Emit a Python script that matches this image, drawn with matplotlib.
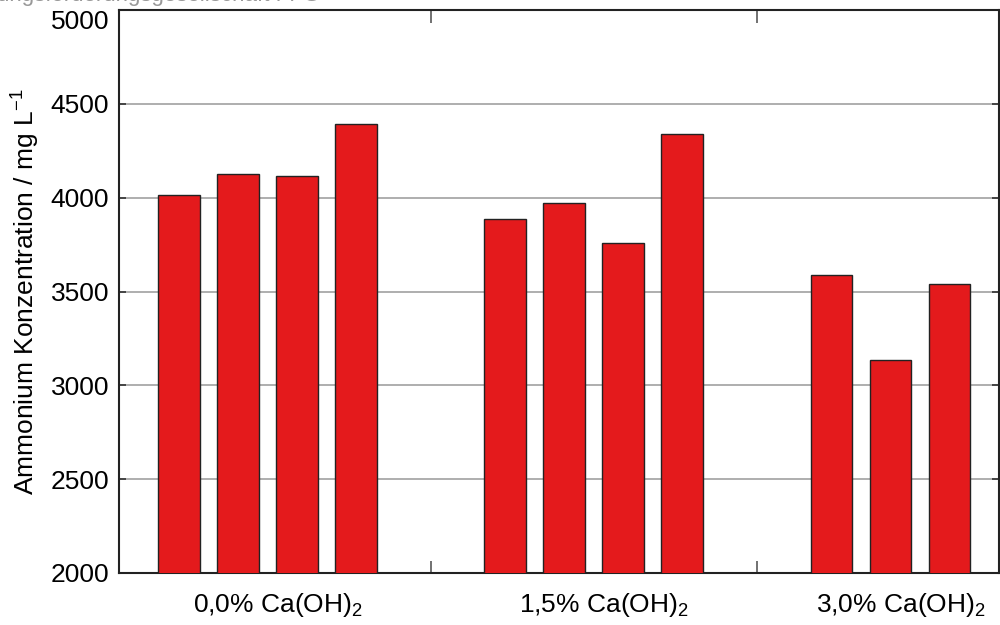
import matplotlib.pyplot as plt
import numpy as np

plt.rcParams['font.family'] = ['Liberation Sans', 'DejaVu Sans']
plt.rcParams['mathtext.fontset'] = 'custom'
plt.rcParams['mathtext.rm'] = 'Liberation Sans'
plt.rcParams['mathtext.it'] = 'Liberation Sans'

# Daten
gruppen = ['0,0% Ca(OH)$_2$', '1,5% Ca(OH)$_2$', '3,0% Ca(OH)$_2$']
werte_00 = [4016, 4126, 4114, 4394]
werte_15 = [3888, 3973, 3757, 4341]
werte_30 = [3586, 3135, 3540]
alle_werte = [werte_00, werte_15, werte_30]

y_ticks = [2000, 2500, 3000, 3500, 4000, 4500, 5000]

rot = '#e41a1c'
abstand = 5.53   # Gruppenabstand in Balkenbreiten
breite = 0.71

fig = plt.figure(figsize=(10, 6.25), dpi=100)
ax = fig.add_axes([0.119, 0.0832, 0.880, 0.9008])

for i, werte in enumerate(alle_werte):
    x = i * abstand + np.arange(len(werte))
    ax.bar(x, werte, width=breite, color=rot, edgecolor='#222222', linewidth=1.0, zorder=3)

ax.set_xlim(-1.017, 13.9)
ax.set_ylim(2000, 5000)
ax.set_yticks(y_ticks)
ax.set_yticklabels([str(v) for v in y_ticks], fontsize=19)
ax.yaxis.grid(True, color='#a8a8a8', linewidth=1.3, zorder=0)

# oberste Beschriftung hängt unter der Achsenoberkante (wie im Original)
ax.yaxis.get_major_ticks()[-1].label1.set_verticalalignment('top')

# Beschriftung der Gruppen
mitten = [i * abstand + (len(w) - 1) / 2 + 0.18 for i, w in enumerate(alle_werte)]
ax.set_xticks(mitten)
ax.set_xticklabels(gruppen, fontsize=19)
ax.tick_params(axis='x', which='major', length=0, pad=13)

# Trennstriche zwischen den Gruppen
trenn = [(3 + abstand) / 2, (3 + abstand) / 2 + abstand]
ax.set_xticks(trenn, minor=True)
ax.tick_params(axis='x', which='minor', direction='in', length=9, width=1.3,
               color='#666666', top=True, bottom=True)

ax.tick_params(axis='y', direction='in', length=5, width=1.2, color='#333333',
               pad=7, right=True)

for s in ax.spines.values():
    s.set_color('#222222')
    s.set_linewidth(1.5)

ax.set_ylabel('Ammonium Konzentration / mg L$^{-1}$', fontsize=19, labelpad=6)

# abgeschnittene Quelle oben links
fig.text(0.32, 0.9985, 'Österreichische Forschungsförderungsgesellschaft FFG',
         ha='right', va='baseline', fontsize=16, color='#999999')

plt.savefig('out.png', dpi=100)
